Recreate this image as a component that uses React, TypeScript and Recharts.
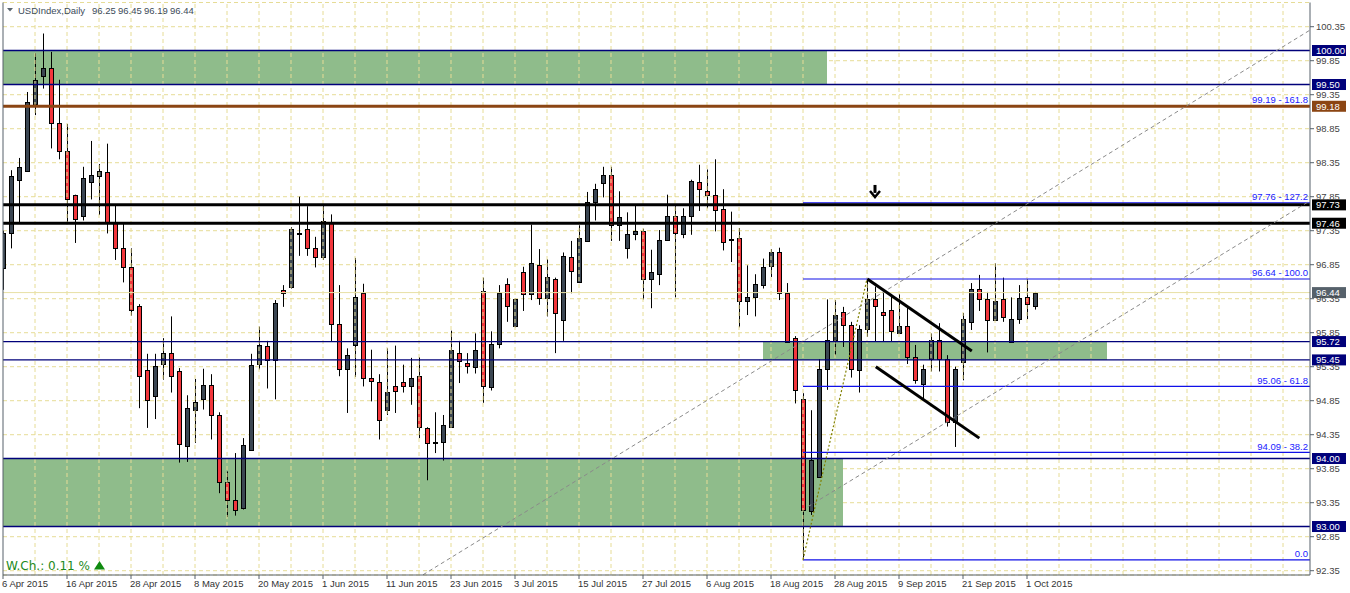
import React from 'react'
import {
  ComposedChart,
  Bar,
  XAxis,
  YAxis,
  CartesianGrid,
  ReferenceLine,
  ReferenceArea,
  ReferenceDot,
} from 'recharts'

const FONT = '"Liberation Sans", Arial, sans-serif'

// daily OHLC, 6 Apr 2015 .. 2 Oct 2015 (one entry per trading day)
const opens = [
  96.8, 97.31, 98.09, 98.23, 99.22, 99.62, 99.75, 98.93, 98.52, 97.87,
  97.57, 98.06, 98.16, 98.21, 97.46, 97.09, 96.82, 96.24, 95.3, 94.92,
  95.39, 95.55, 95.29, 94.19, 94.71, 94.87, 95.08, 94.64, 93.66, 93.39,
  93.27, 94.12, 95.39, 95.65, 95.45, 96.48, 96.52, 97.3, 97.37, 97.09,
  96.97, 97.47, 95.98, 95.31, 95.67, 96.43, 95.18, 95.12, 94.72, 95.06,
  95.13, 95.06, 95.22, 94.45, 94.25, 94.25, 94.46, 95.55, 95.41, 95.35,
  96.47, 95.05, 95.68, 96.56, 95.95, 96.75, 96.42, 96.84, 96.36, 96.64,
  96.03, 96.96, 96.59, 97.2, 97.77, 98.05, 98.17, 97.43, 97.09, 97.3,
  97.34, 96.64, 96.72, 97.22, 97.56, 97.3, 97.56, 98.06, 97.94, 97.87,
  97.67, 97.23, 97.24, 96.31, 96.37, 96.55, 96.83, 97.03, 96.43, 95.77,
  94.87, 93.23, 93.73, 95.31, 95.75, 96.16, 95.96, 95.3, 95.9, 96.34,
  96.16, 96.18, 95.84, 95.95, 95.49, 95.09, 95.47, 95.75, 95.46, 94.53,
  95.42, 96.01, 96.49, 96.34, 96.04, 96.34, 95.71, 96.05, 96.38, 96.25,
]
const highs = [
  97.35, 98.24, 98.42, 99.39, 99.96, 100.25, 99.98, 99.57, 98.92, 97.88,
  98.29, 98.67, 98.33, 98.63, 97.73, 97.45, 97.09, 96.27, 95.54, 95.54,
  95.77, 96.09, 95.33, 94.93, 95.17, 95.32, 95.24, 94.68, 93.81, 94.08,
  94.3, 95.54, 95.94, 95.73, 96.33, 96.55, 97.4, 97.85, 97.71, 97.26,
  97.71, 97.59, 96.55, 95.62, 96.95, 96.57, 95.6, 95.24, 95.62, 95.66,
  95.38, 95.48, 95.49, 94.46, 94.68, 94.64, 95.88, 95.73, 95.55, 95.84,
  96.66, 95.87, 96.55, 96.65, 96.35, 96.82, 97.44, 97.08, 96.93, 96.66,
  97.03, 97.2, 97.43, 97.92, 98.04, 98.29, 98.29, 97.93, 97.62, 97.72,
  97.38, 97.07, 97.36, 97.88, 97.71, 97.68, 98.1, 98.32, 98.25, 98.4,
  97.96, 97.63, 97.39, 96.84, 96.71, 96.94, 97.08, 97.1, 96.58, 95.8,
  94.96, 94.71, 95.46, 96.34, 96.33, 96.23, 96.01, 95.96, 96.64, 96.53,
  96.45, 96.42, 96.42, 96.23, 95.67, 95.38, 95.84, 95.99, 95.52, 95.35,
  96.14, 96.58, 96.7, 96.45, 96.87, 96.66, 96.37, 96.55, 96.64, 96.45,
]
const lows = [
  96.48, 97.09, 97.46, 98.22, 99.05, 99.44, 98.56, 98.4, 97.46, 97.17,
  97.5, 97.81, 97.58, 97.31, 96.92, 96.59, 96.1, 94.74, 94.45, 94.58,
  95.16, 94.97, 93.94, 93.95, 94.23, 94.72, 94.28, 93.49, 93.14, 93.16,
  93.25, 94.12, 95.31, 95.03, 94.87, 96.23, 96.5, 96.98, 96.98, 96.81,
  96.92, 95.72, 95.21, 94.67, 95.2, 95.06, 94.84, 94.28, 94.64, 94.67,
  94.97, 94.79, 94.3, 93.68, 94.08, 93.97, 94.45, 95.11, 95.25, 95.25,
  94.82, 95.0, 95.62, 96.01, 95.93, 96.17, 96.33, 96.26, 96.09, 95.55,
  95.73, 96.43, 96.58, 97.19, 97.5, 97.84, 97.2, 97.2, 96.94, 97.21,
  96.34, 96.21, 96.55, 97.21, 96.37, 97.24, 97.29, 97.64, 97.68, 97.34,
  97.06, 96.89, 95.93, 96.11, 96.09, 96.5, 96.67, 96.33, 95.71, 94.81,
  92.51, 93.17, 93.72, 95.01, 95.52, 95.64, 95.19, 94.97, 95.79, 95.72,
  95.72, 95.72, 95.83, 95.39, 95.1, 94.86, 95.28, 95.28, 94.47, 94.17,
  95.15, 95.89, 96.17, 95.56, 96.03, 96.01, 95.7, 95.98, 96.05, 96.19,
]
const closes = [
  97.31, 98.15, 98.28, 99.24, 99.56, 99.75, 98.93, 98.52, 97.81, 97.52,
  98.12, 98.17, 98.23, 97.46, 97.09, 96.82, 96.18, 95.22, 94.86, 95.36,
  95.55, 95.22, 94.21, 94.74, 94.83, 95.08, 94.64, 93.66, 93.39, 93.25,
  94.2, 95.38, 95.67, 95.45, 96.28, 96.44, 97.37, 97.31, 97.09, 96.97,
  97.49, 95.98, 95.31, 95.52, 96.37, 95.19, 95.14, 94.57, 94.98, 95.0,
  95.07, 95.19, 94.46, 94.23, 94.24, 94.49, 95.6, 95.43, 95.36, 95.6,
  95.06, 95.68, 96.44, 96.24, 96.34, 96.42, 96.87, 96.36, 96.67, 96.14,
  96.98, 96.76, 97.24, 97.77, 97.97, 98.17, 97.43, 97.55, 97.3, 97.34,
  96.64, 96.75, 97.22, 97.57, 97.31, 97.56, 98.08, 97.96, 97.87, 97.66,
  97.19, 97.22, 96.31, 96.37, 96.56, 96.81, 97.03, 96.43, 95.72, 95.01,
  93.25, 93.98, 95.31, 95.75, 96.11, 95.96, 95.31, 95.9, 96.34, 96.24,
  96.11, 95.87, 95.95, 95.5, 95.16, 95.31, 95.74, 95.46, 94.53, 95.31,
  96.05, 96.5, 96.34, 96.04, 96.32, 96.08, 96.05, 96.36, 96.27, 96.44,
]

const dateLabels = [
  '6 Apr 2015', '16 Apr 2015', '28 Apr 2015', '8 May 2015', '20 May 2015',
  '1 Jun 2015', '11 Jun 2015', '23 Jun 2015', '3 Jul 2015', '15 Jul 2015',
  '27 Jul 2015', '6 Aug 2015', '18 Aug 2015', '28 Aug 2015', '9 Sep 2015',
  '21 Sep 2015', '1 Oct 2015',
]
const dateTicks = dateLabels.map((_, k) => k * 8)

const priceTicks = [
  92.35, 92.85, 93.35, 93.85, 94.35, 94.85, 95.35, 95.85, 96.35, 96.85,
  97.35, 97.85, 98.35, 98.85, 99.35, 99.85, 100.35,
]

// header: symbol + last bar OHLC
const headerTitle = 'USDIndex,Daily'
const headerOhlc = ['96.25', '96.45', '96.19', '96.44']
const weeklyChange = 'W.Ch.: 0.11 %'

// levels drawn on the chart
const navyLevels = [100, 99.5, 95.72, 95.45, 94, 93]
const blackLevels = [97.73, 97.46]
const brownLevel = 99.18
const bidLevel = 96.44
const fibLevels = [92.51, 94.09, 95.06, 96.64, 97.76, 99.19]
const fibRatios = ['0.0', '38.2', '61.8', '100.0', '127.2', '161.8']
const priceTags = [
  { v: 100, text: '100.00', bg: '#00007a' },
  { v: 99.5, text: '99.50', bg: '#00007a' },
  { v: 99.18, text: '99.18', bg: '#8b4513' },
  { v: 97.73, text: '97.73', bg: '#000000' },
  { v: 97.46, text: '97.46', bg: '#000000' },
  { v: 96.44, text: '96.44', bg: '#56616b' },
  { v: 95.72, text: '95.72', bg: '#00007a' },
  { v: 95.45, text: '95.45', bg: '#00007a' },
  { v: 94, text: '94.00', bg: '#00007a' },
  { v: 93, text: '93.00', bg: '#00007a' },
]
// [x1, x2, low, high] in bar index / price
const zones = [
  [0, 103, 99.5, 100],
  [95, 138, 95.45, 95.72],
  [0, 105, 93, 94],
]
// trend / channel segments [x1, y1, x2, y2]
const dashedRays = [
  [52.5, 92.29, 163.375, 100.3],
  [100.6, 93.29, 163.375, 97.79],
]
const channelLines = [
  [108.04, 96.64, 121.1, 95.58],
  [109.1, 95.35, 122.04, 94.3],
]
const fibSwing = [100, 92.51, 108, 96.64]
const arrowAt = { i: 109, v: 97.92 }

const X_MAX = 163.375
const Y_MIN = 92.287
const Y_MAX = 100.706

const candles = opens.map((o, i) => ({
  i,
  o,
  h: highs[i],
  l: lows[i],
  c: closes[i],
  range: [lows[i], highs[i]],
}))

const gridX: number[] = []
for (let k = 4; k <= 160; k += 4) gridX.push(k)

const Candle = (props: any) => {
  const { x, y, width, height, payload } = props
  if (x == null || y == null) return null
  const top = Math.min(y, y + height)
  const span = Math.abs(height)
  const k = span / (payload.h - payload.l || 1)
  const cx = Math.round(x + width / 2)
  const yo = top + (payload.h - payload.o) * k
  const yc = top + (payload.h - payload.c) * k
  const b1 = Math.round(Math.min(yo, yc)) + 0.5
  const b2 = Math.max(Math.round(Math.max(yo, yc)) + 0.5, b1 + 1)
  const up = payload.c >= payload.o
  return (
    <g>
      <line x1={cx + 0.5} x2={cx + 0.5} y1={top} y2={top + span} stroke="#000" strokeWidth={1} />
      <rect
        x={cx - 1.5}
        y={b1}
        width={4}
        height={b2 - b1}
        fill={up ? '#3b4652' : '#f2363c'}
        stroke="#000"
        strokeWidth={1}
      />
    </g>
  )
}

const DateTick = (props: any) => {
  const { x, y, payload } = props
  const label = dateLabels[Math.round(payload.value / 8)]
  return (
    <text x={x - 1} y={y + 6} fontSize={9.5} fontFamily={FONT} fill="#333" textAnchor="start">
      {label}
    </text>
  )
}

const PriceTick = (props: any) => {
  const { x, y, payload } = props
  return (
    <text x={x} y={y + 3.4} fontSize={9.5} fontFamily={FONT} fill="#444" textAnchor="start">
      {payload.value.toFixed(2)}
    </text>
  )
}

export default function App() {
  return (
    <div
      style={{
        position: 'absolute',
        left: 0,
        top: 0,
        width: 1350,
        height: 593,
        background: '#fff',
        fontFamily: FONT,
      }}
    >
      <ComposedChart
        width={1350}
        height={593}
        data={candles}
        margin={{ top: 2.5, right: 0, bottom: 0, left: 3 }}
      >
        <CartesianGrid vertical={false} stroke="#e6dc96" strokeDasharray="4 3" />
        {gridX.map((gx) => (
          <ReferenceLine key={'gx' + gx} x={gx} stroke="#e6dc96" strokeDasharray="4 3" />
        ))}
        {zones.map((z, k) => (
          <ReferenceArea
            key={'z' + k}
            x1={z[0]}
            x2={z[1]}
            y1={z[2]}
            y2={z[3]}
            fill="#8fbc8b"
            fillOpacity={1}
            stroke="none"
          />
        ))}
        <ReferenceLine y={bidLevel} stroke="#e8e0a4" strokeWidth={1} />
        {fibLevels.map((lv, k) => (
          <ReferenceLine
            key={'f' + k}
            segment={[
              { x: fibSwing[0], y: lv },
              { x: X_MAX, y: lv },
            ]}
            stroke="#1010e8"
            strokeWidth={1.2}
            ifOverflow="hidden"
          />
        ))}
        {navyLevels.map((lv) => (
          <ReferenceLine key={'n' + lv} y={lv} stroke="#00007a" strokeWidth={1.3} />
        ))}
        {blackLevels.map((lv) => (
          <ReferenceLine key={'b' + lv} y={lv} stroke="#000" strokeWidth={3} />
        ))}
        <ReferenceLine y={brownLevel} stroke="#8b4513" strokeWidth={3} />
        {dashedRays.map((s, k) => (
          <ReferenceLine
            key={'r' + k}
            segment={[
              { x: s[0], y: s[1] },
              { x: s[2], y: s[3] },
            ]}
            stroke="#8a8a8a"
            strokeDasharray="4 3"
            ifOverflow="hidden"
          />
        ))}
        <ReferenceLine
          segment={[
            { x: fibSwing[0], y: fibSwing[1] },
            { x: fibSwing[2], y: fibSwing[3] },
          ]}
          stroke="#808000"
          strokeWidth={1.2}
          strokeDasharray="2 2"
          ifOverflow="hidden"
        />
        <Bar dataKey="range" barSize={5} shape={Candle} isAnimationActive={false} />
        {channelLines.map((s, k) => (
          <ReferenceLine
            key={'c' + k}
            segment={[
              { x: s[0], y: s[1] },
              { x: s[2], y: s[3] },
            ]}
            stroke="#000"
            strokeWidth={3}
            ifOverflow="hidden"
          />
        ))}
        <ReferenceDot
          x={arrowAt.i}
          y={arrowAt.v}
          r={0}
          ifOverflow="visible"
          shape={(p: any) => (
            <g>
              <rect x={p.cx - 1.5} y={p.cy - 7} width={3} height={8} fill="#000" />
              <path
                d={`M${p.cx - 5},${p.cy - 1} L${p.cx},${p.cy + 5} L${p.cx + 5},${p.cy - 1}`}
                fill="none"
                stroke="#000"
                strokeWidth={2.5}
              />
            </g>
          )}
        />
        {fibLevels.map((lv, k) => (
          <ReferenceDot
            key={'fl' + k}
            x={X_MAX}
            y={lv}
            r={0}
            ifOverflow="visible"
            shape={(p: any) => (
              <text
                x={p.cx - 2}
                y={p.cy - 2.5}
                fontSize={9.5}
                fontFamily={FONT}
                fill="#1a1aff"
                textAnchor="end"
              >
                {k === 0 ? fibRatios[k] : `${lv.toFixed(2)} - ${fibRatios[k]}`}
              </text>
            )}
          />
        ))}
        <ReferenceLine x={0} stroke="#56616b" />
        <XAxis
          type="number"
          dataKey="i"
          domain={[0, X_MAX]}
          ticks={dateTicks}
          interval={0}
          allowDataOverflow
          height={18}
          tickSize={4}
          tickMargin={2}
          stroke="#56616b"
          tick={<DateTick />}
        />
        <YAxis
          orientation="right"
          type="number"
          domain={[Y_MIN, Y_MAX]}
          ticks={priceTicks}
          interval={0}
          allowDataOverflow
          width={40}
          tickSize={4}
          tickMargin={2}
          stroke="#56616b"
          tick={<PriceTick />}
        />
        {priceTags.map((t) => (
          <ReferenceDot
            key={'t' + t.text}
            x={X_MAX}
            y={t.v}
            r={0}
            ifOverflow="visible"
            shape={(p: any) => (
              <g>
                <rect x={p.cx + 2} y={p.cy - 5.5} width={34} height={11} fill={t.bg} />
                <text
                  x={p.cx + 6}
                  y={p.cy + 3.4}
                  fontSize={9.5}
                  fontFamily={FONT}
                  fill="#fff"
                  textAnchor="start"
                >
                  {t.text}
                </text>
              </g>
            )}
          />
        ))}
      </ComposedChart>
      <svg
        width={260}
        height={20}
        style={{ position: 'absolute', left: 0, top: 0, pointerEvents: 'none' }}
      >
        <polygon points="7,8 13,8 10,11.5" fill="#5a6670" />
        <text x={18} y={14} fontSize={9.5} fontFamily={FONT} fill="#3c4b5a">
          {headerTitle}
        </text>
        {headerOhlc.map((v, k) => (
          <text key={v + k} x={92 + k * 26} y={14} fontSize={9.5} fontFamily={FONT} fill="#3c4b5a">
            {v}
          </text>
        ))}
      </svg>
      <svg
        width={120}
        height={20}
        style={{ position: 'absolute', left: 0, top: 556, pointerEvents: 'none' }}
      >
        <text
          x={6}
          y={14}
          fontSize={12}
          fontFamily='"DejaVu Sans", sans-serif'
          fill="#1c8a1c"
          textLength={84}
          lengthAdjust="spacingAndGlyphs"
        >
          {weeklyChange}
        </text>
        <polygon points="94,13.5 105,13.5 99.5,5" fill="#0f8a0f" />
      </svg>
    </div>
  )
}
